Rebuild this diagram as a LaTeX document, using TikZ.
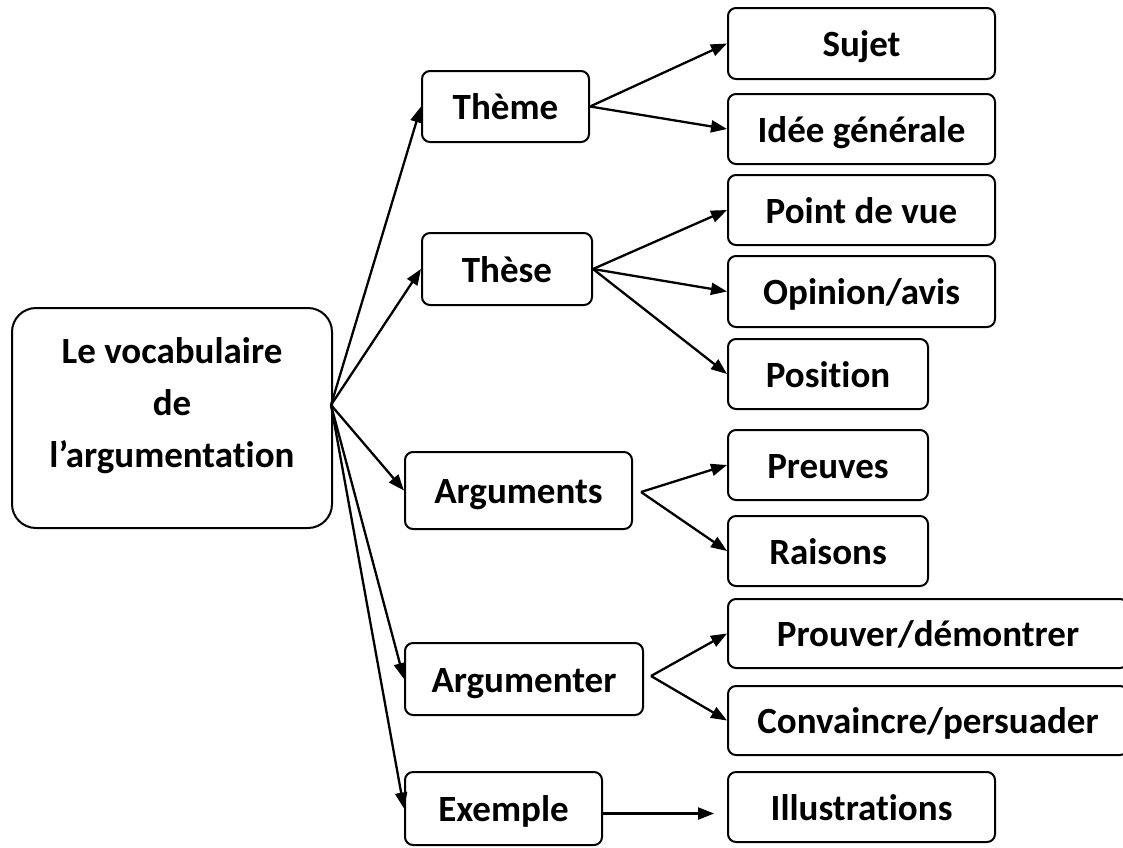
\documentclass[tikz,border=0pt]{standalone}
\usepackage{fontspec}
\setmainfont{Carlito}[Ligatures=NoCommon]
\usetikzlibrary{arrows.meta,calc}
\begin{document}
\begin{tikzpicture}[x=1pt,y=-1pt,
  box/.style={draw,line width=2pt,rounded corners=8pt,
    font=\fontsize{37}{44}\selectfont\bfseries,
    text height=26pt,text depth=0pt,inner sep=0pt},
  mainbox/.style={draw,line width=2pt,rounded corners=24pt,inner sep=0pt},
  mainlab/.style={align=center,inner sep=0pt,font=\fontsize{37}{52}\selectfont\bfseries},
  arr/.style={line width=2.3pt,-{Triangle[length=16pt,width=12pt]}},
]
\useasboundingbox (0,0) rectangle (1123,847);
\fill[white] (0,0) rectangle (1123,847);

% main box
\node[mainbox,minimum width=320pt,minimum height=220pt] (main) at (172,418) {};
\node[mainlab] (mainlabel) at (172,405.5) {Le vocabulaire\\de\\l’argumentation};

% second level
\node[box,minimum width=167pt,minimum height=71pt] (theme) at (505.5,106.5) {Thème};
\node[box,minimum width=170pt,minimum height=72pt] (these) at (507,269) {Thèse};
\node[box,minimum width=227pt,minimum height=77pt] (arguments) at (518.5,490.5) {Arguments};
\node[box,minimum width=238pt,minimum height=72pt] (argumenter) at (524,679) {Argumenter};
\node[box,minimum width=197pt,minimum height=73pt] (exemple) at (503.5,808.5) {Exemple};

% third level
\node[box,minimum width=267pt,minimum height=71pt] (sujet) at (861.5,43.5) {Sujet};
\node[box,minimum width=267pt,minimum height=70pt] (idee) at (861.5,129) {Idée générale};
\node[box,minimum width=267pt,minimum height=70pt] (pdv) at (861.5,210) {Point de vue};
\node[box,minimum width=267pt,minimum height=71pt] (opinion) at (861.5,291.5) {Opinion/avis};
\node[box,minimum width=200pt,minimum height=70pt] (position) at (828,374) {Position};
\node[box,minimum width=200pt,minimum height=70pt] (preuves) at (828,465) {Preuves};
\node[box,minimum width=200pt,minimum height=70pt] (raisons) at (828,551) {Raisons};
\node[box,minimum width=400pt,minimum height=69pt] (prouver) at (928,633.5) {Prouver/démontrer};
\node[box,minimum width=400pt,minimum height=69pt] (convaincre) at (928,720.5) {Convaincre/persuader};
\node[box,minimum width=267pt,minimum height=70pt] (illus) at (861.5,807) {Illustrations};

% fork points
\coordinate (hub) at ($(main.east)+(-2,-13)$);
\coordinate (argfork) at ($(arguments.east)+(8,1.5)$);
\coordinate (amfork) at ($(argumenter.east)+(7,-3)$);

% connectors from main
\draw[arr] (hub) -- (theme.west);
\draw[arr] (hub) -- (these.west);
\draw[arr] (hub) -- (arguments.west);
\draw[arr] (hub) -- (argumenter.west);
\draw[arr] (hub) -- (exemple.west);

% connectors to third level
\draw[arr] (theme.east) -- (sujet.west);
\draw[arr] (theme.east) -- (idee.west);
\draw[arr] (these.east) -- (pdv.west);
\draw[arr] (these.east) -- (opinion.west);
\draw[arr] (these.east) -- (position.west);
\draw[arr] (argfork) -- (preuves.west);
\draw[arr] (argfork) -- (raisons.west);
\draw[arr] (amfork) -- (prouver.west);
\draw[arr] (amfork) -- (convaincre.west);
\draw[arr,shorten >=13pt] ([yshift=-5pt]exemple.east) -- ([yshift=-5pt]exemple.east -| illus.west);
\end{tikzpicture}
\end{document}
